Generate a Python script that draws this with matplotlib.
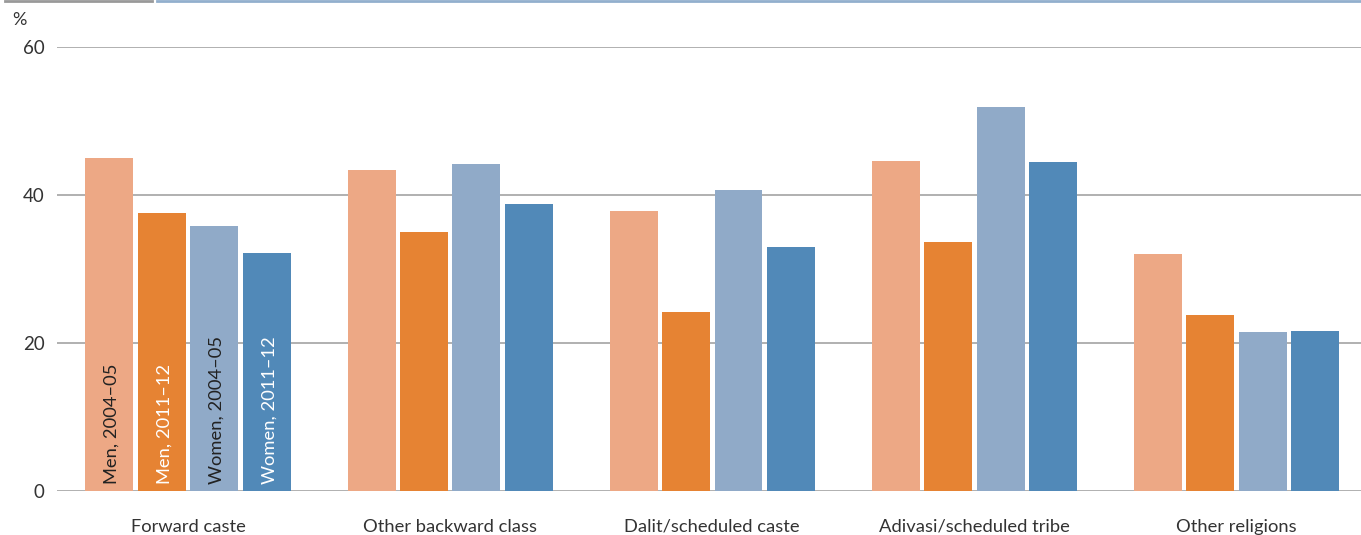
import matplotlib
matplotlib.use("Agg")
import matplotlib.pyplot as plt
from matplotlib.lines import Line2D
import numpy as np

plt.rcParams['font.family'] = ['Lato', 'DejaVu Sans']

categories = ["Forward caste", "Other backward class", "Dalit/scheduled caste",
              "Adivasi/scheduled tribe", "Other religions"]
series_names = ["Men, 2004\u201305", "Men, 2011\u201312", "Women, 2004\u201305", "Women, 2011\u201312"]
men_2004 = [45.0, 43.4, 37.8, 44.6, 32.0]
men_2011 = [37.6, 35.0, 24.2, 33.6, 23.8]
women_2004 = [35.8, 44.2, 40.7, 51.9, 21.5]
women_2011 = [32.2, 38.8, 33.0, 44.5, 21.6]
y_ticks = [0, 20, 40, 60]

colors = ["#EDA885", "#E68333", "#90AAC8", "#5189B8"]
text_colors = ["#222222", "white", "#222222", "white"]

W, H = 1361, 535
fig = plt.figure(figsize=(W / 100, H / 100), dpi=100)
ax = fig.add_axes([57 / W, 1 - 491 / H, 1 - 57 / W, (491 - 47) / H])

x = np.arange(len(categories))
pitch = 0.2
width = 0.183
all_series = [men_2004, men_2011, women_2004, women_2011]
for i, vals in enumerate(all_series):
    off = (i - 1.5) * pitch
    ax.bar(x + off, vals, width=width, color=colors[i], zorder=3)
    ax.text(x[0] + off + 0.01, 1.0, series_names[i], rotation=90, ha='center', va='bottom',
            color=text_colors[i], fontsize=13.2, zorder=4)

ax.set_ylim(0, 60)
ax.set_xlim(-0.5, 4.475)
ax.set_yticks(y_ticks)
ax.set_yticklabels([str(t) for t in y_ticks])
ax.yaxis.grid(True, color="#AAAAAA", linewidth=1.3, zorder=0)
ax.set_axisbelow(True)
for s in ax.spines.values():
    s.set_visible(False)
ax.tick_params(axis='y', length=0, pad=9, labelsize=13.5, labelcolor="#333333")
ax.tick_params(axis='x', length=0, pad=20, labelsize=13.2, labelcolor="#333333")
ax.set_xticks(x)
ax.set_xticklabels(categories)
for lbl in ax.get_yticklabels():
    lbl.set_horizontalalignment('right')

fig.text(12 / W, 1 - 20 / H, "%", fontsize=13, color="#333333", ha='left', va='center')

fig.add_artist(Line2D([5 / W, 152 / W], [1 - 0.8 / H, 1 - 0.8 / H], color="#999999", linewidth=2,
                      transform=fig.transFigure))
fig.add_artist(Line2D([157 / W, 1.0], [1 - 0.8 / H, 1 - 0.8 / H], color="#92AFCD", linewidth=2,
                      transform=fig.transFigure))

fig.savefig("out.png", dpi=100)
